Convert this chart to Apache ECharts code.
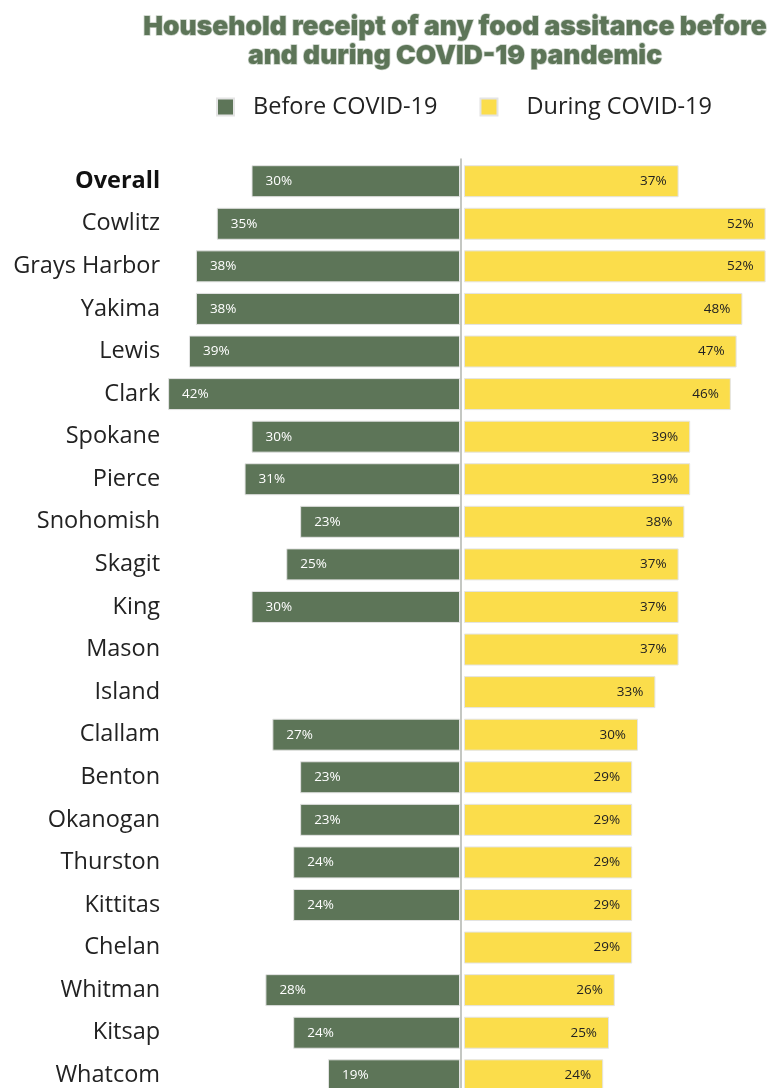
<!DOCTYPE html>
<html>
<head>
<meta charset="utf-8">
<script src="https://cdn.jsdelivr.net/npm/echarts@6/dist/echarts.min.js"></script>
<style>
html,body{margin:0;padding:0;background:#fff;}
#chart{width:781px;height:1088px;}
</style>
</head>
<body>
<div id="chart"></div>
<script>
const categories = ['Overall','Cowlitz','Grays Harbor','Yakima','Lewis','Clark','Spokane','Pierce','Snohomish','Skagit','King','Mason','Island','Clallam','Benton','Okanogan','Thurston','Kittitas','Chelan','Whitman','Kitsap','Whatcom'];
const beforeValues = [30,35,38,38,39,42,30,31,23,25,30,null,null,27,23,23,24,24,null,28,24,19];
const duringValues = [37,52,52,48,47,46,39,39,38,37,37,37,33,30,29,29,29,29,29,26,25,24];
const seriesNames = ['Before COVID-19','During COVID-19'];
const titleText = 'Household receipt of any food assitance before\nand during COVID-19 pandemic';

const GREEN = '#5d7558';
const YELLOW = '#fbdd4b';
const FONT = 'Open Sans';

const chart = echarts.init(document.getElementById('chart'));
chart.setOption({
  animation: false,
  title: {
    text: titleText,
    left: 450, top: 8, textAlign: 'center',
    textStyle: {
      fontFamily: 'Inter', fontWeight: 900, fontSize: 26.4, lineHeight: 29,
      color: GREEN, textBorderColor: 'rgba(93,117,88,0.35)', textBorderWidth: 1.5
    }
  },
  legend: {
    data: [
      { name: seriesNames[0], textStyle: { padding: [0,0,0,14] } },
      { name: seriesNames[1], textStyle: { padding: [0,0,0,24] } }
    ],
    left: 211, top: 90,
    icon: 'rect', itemWidth: 17, itemHeight: 17, itemGap: 42,
    textStyle: { fontFamily: FONT, fontSize: 23.5, color: '#222' }
  },
  grid: [
    { left: 168.1, top: 181.2, width: 291.9, height: 894.1 },
    { left: 464, top: 181.2, width: 316, height: 894.1 },
    { left: 461, top: 159, width: 1, bottom: 0 }
  ],
  xAxis: [
    { gridIndex: 0, type: 'value', min: 0, max: 42, inverse: true, show: false },
    { gridIndex: 1, type: 'value', min: 0, max: 54.48, show: false },
    { gridIndex: 2, type: 'value', min: 0, max: 1, show: false }
  ],
  yAxis: [
    { gridIndex: 0, type: 'category', data: categories, inverse: true, position: 'left', boundaryGap: false,
      axisLine: { show: false }, axisTick: { show: false },
      axisLabel: { margin: 8, fontFamily: FONT, fontSize: 23.5, color: '#222',
        formatter: v => v === 'Overall' ? '{b|' + v + '}' : v,
        rich: { b: { fontFamily: FONT, fontSize: 23.5, fontWeight: 'bold', color: '#111' } } } },
    { gridIndex: 1, type: 'category', data: categories, inverse: true, position: 'left', boundaryGap: false,
      axisLine: { show: false }, axisTick: { show: false }, axisLabel: { show: false } },
    { gridIndex: 2, type: 'value', min: 0, max: 1, position: 'left',
      axisLine: { show: true, lineStyle: { color: '#b0b4ae', width: 1.5 } },
      axisTick: { show: false }, axisLabel: { show: false }, splitLine: { show: false } }
  ],
  series: [
    { name: seriesNames[0], type: 'bar', xAxisIndex: 0, yAxisIndex: 0, data: beforeValues, clip: false,
      barWidth: 32, itemStyle: { color: GREEN, borderColor: '#e4e4e4', borderWidth: 1 },
      label: { show: true, position: 'insideLeft', distance: 14, color: '#fff',
        fontFamily: FONT, fontSize: 13.5, formatter: p => p.value + '%' } },
    { name: seriesNames[1], type: 'bar', xAxisIndex: 1, yAxisIndex: 1, data: duringValues, clip: false,
      barWidth: 32, itemStyle: { color: YELLOW, borderColor: '#e4e4e4', borderWidth: 1 },
      label: { show: true, position: 'insideRight', distance: 12, color: '#222',
        fontFamily: FONT, fontSize: 13.5, formatter: p => p.value + '%' } }
  ]
});
</script>
</body>
</html>
